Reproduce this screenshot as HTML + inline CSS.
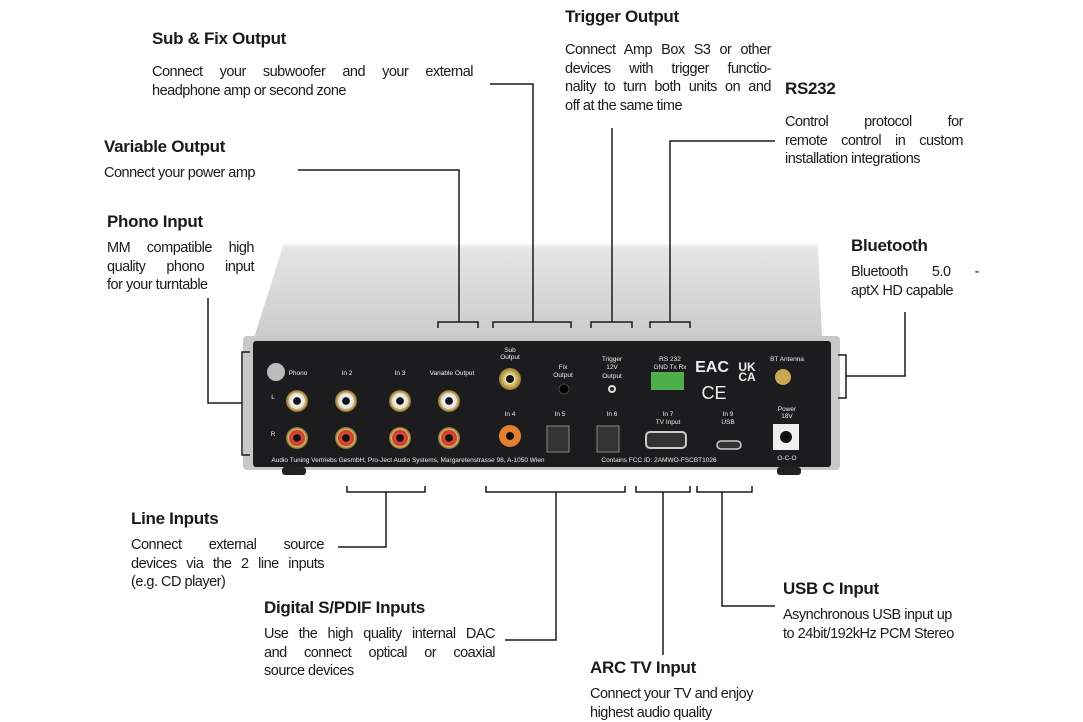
<!DOCTYPE html>
<html><head><meta charset="utf-8">
<style>
body{margin:0;background:#fff;}
#c{position:relative;width:1083px;height:722px;overflow:hidden;font-family:"Liberation Sans",sans-serif;color:#1a1a1a;}
.t{position:absolute;font-weight:bold;font-size:17px;letter-spacing:-0.3px;}
.d{position:absolute;font-size:14.5px;line-height:18.5px;letter-spacing:-0.5px;white-space:nowrap;}
.d div{text-align:left;}
.d .j{text-align:justify;text-align-last:justify;}
svg{position:absolute;left:0;top:0;}
</style></head><body><div id="c">
<svg width="1083" height="722">
<defs>
<linearGradient id="lid" x1="0" y1="0" x2="0" y2="1"><stop offset="0" stop-color="#e6e6e6"/><stop offset="1" stop-color="#cbcbcb"/></linearGradient>
<radialGradient id="gold"><stop offset="0.35" stop-color="#fff"/><stop offset="0.45" stop-color="#e7d38a"/><stop offset="1" stop-color="#9a7a2a"/></radialGradient>
<radialGradient id="red"><stop offset="0.3" stop-color="#111"/><stop offset="0.4" stop-color="#e04a3a"/><stop offset="0.7" stop-color="#c83a2a"/><stop offset="0.75" stop-color="#d9b870"/><stop offset="1" stop-color="#8a6a2a"/></radialGradient>
<radialGradient id="wht"><stop offset="0.3" stop-color="#111"/><stop offset="0.4" stop-color="#f4f4f4"/><stop offset="0.7" stop-color="#ddd"/><stop offset="0.75" stop-color="#d9b870"/><stop offset="1" stop-color="#8a6a2a"/></radialGradient>
</defs>
<path d="M283,246 L818,246 L822,338 L254,338 Z" fill="url(#lid)"/>
<path d="M283,246 L818,246" stroke="#eee" stroke-width="3"/>
<rect x="243" y="336" width="597" height="134" rx="4" fill="#c8c8c8"/>
<rect x="253" y="341" width="578" height="126" rx="3" fill="#1c1c1e"/>
<rect x="282" y="467" width="24" height="8" rx="3" fill="#222"/>
<rect x="777" y="467" width="24" height="8" rx="3" fill="#222"/>
<circle cx="276" cy="372" r="9" fill="#bbb"/>
<g>
<circle cx="297" cy="401" r="11" fill="url(#wht)"/><circle cx="297" cy="438" r="11" fill="url(#red)"/>
<circle cx="346" cy="401" r="11" fill="url(#wht)"/><circle cx="346" cy="438" r="11" fill="url(#red)"/>
<circle cx="400" cy="401" r="11" fill="url(#wht)"/><circle cx="400" cy="438" r="11" fill="url(#red)"/>
<circle cx="449" cy="401" r="11" fill="url(#wht)"/><circle cx="449" cy="438" r="11" fill="url(#red)"/>
<circle cx="510" cy="379" r="11" fill="url(#gold)"/><circle cx="510" cy="379" r="4" fill="#111"/>
<circle cx="510" cy="436" r="11" fill="#e08030"/><circle cx="510" cy="436" r="4" fill="#111"/>
<circle cx="564" cy="389" r="5" fill="#000" stroke="#444"/>
<circle cx="612" cy="389" r="4" fill="#ddd"/><circle cx="612" cy="389" r="2" fill="#222"/>
<rect x="651" y="372" width="33" height="18" fill="#4fae4a"/>
<rect x="547" y="426" width="22" height="26" fill="#333" stroke="#888"/>
<rect x="597" y="426" width="22" height="26" fill="#333" stroke="#888"/>
<rect x="646" y="432" width="40" height="16" rx="4" fill="#333" stroke="#ccc" stroke-width="2"/>
<rect x="717" y="441" width="24" height="8" rx="4" fill="#333" stroke="#ccc" stroke-width="1.5"/>
<rect x="773" y="424" width="26" height="26" fill="#eee"/><circle cx="786" cy="437" r="6" fill="#111"/>
<circle cx="783" cy="377" r="8" fill="#c8a850"/>
</g>
<g fill="#eee" font-family="Liberation Sans" font-size="6.5" text-anchor="middle">
<text x="298" y="375">Phono</text><text x="347" y="375">In 2</text><text x="400" y="375">In 3</text><text x="452" y="375">Variable Output</text>
<text x="273" y="399">L</text><text x="273" y="436">R</text>
<text x="510" y="352">Sub</text><text x="510" y="359">Output</text>
<text x="563" y="369">Fix</text><text x="563" y="377">Output</text>
<text x="612" y="361">Trigger</text><text x="612" y="369">12V</text><text x="612" y="378">Output</text>
<text x="670" y="361">RS 232</text><text x="670" y="369">GND Tx Rx</text>
<text x="787" y="361">BT Antenna</text><text x="787" y="411">Power</text><text x="787" y="418">18V</text>
<text x="510" y="416">In 4</text><text x="560" y="416">In 5</text><text x="612" y="416">In 6</text>
<text x="668" y="416">In 7</text><text x="668" y="424">TV Input</text>
<text x="728" y="416">In 9</text><text x="728" y="424">USB</text>
<text x="408" y="462">Audio Tuning Vertriebs GesmbH, Pro-Ject Audio Systems, Margaretenstrasse 98, A-1050 Wien</text>
<text x="659" y="462">Contains FCC ID: 2AMWO-FSCBT1026</text>
<text x="787" y="460">O-C-O</text>
<text x="712" y="372" font-size="16" font-weight="bold">EAC</text>
<text x="747" y="371" font-size="12" font-weight="bold">UK</text><text x="747" y="381" font-size="12" font-weight="bold">CA</text>
<text x="714" y="399" font-size="18">CE</text>
</g>
<g fill="none" stroke="#1a1a1a" stroke-width="1.5">
<path d="M438,328 V322 H478 V328 M459,322 V170 H298"/>
<path d="M493,328 V322 H571 V328 M533,322 V84 H490"/>
<path d="M591,328 V322 H632 V328 M612,322 V128"/>
<path d="M650,328 V322 H690 V328 M670,322 V141 H775"/>
<path d="M838,355 H846 V398 H838 M846,376 H905 V312"/>
<path d="M250,352 H242 V455 H250 M242,403 H208 V298"/>
<path d="M347,486 V492 H425 V486 M386,492 V547 H338"/>
<path d="M486,486 V492 H625 V486 M556,492 V640 H505"/>
<path d="M636,486 V492 H690 V486 M663,492 V655"/>
<path d="M697,486 V492 H752 V486 M722,492 V606 H775"/>
</g>
</svg>

<div class="t" style="left:152px;top:29px">Sub &amp; Fix Output</div>
<div class="d" style="left:152px;top:63px;width:321px"><div class="j">Connect your subwoofer and your external</div><div>headphone amp or second zone</div></div>

<div class="t" style="left:104px;top:137px">Variable Output</div>
<div class="d" style="left:104px;top:164px">Connect your power amp</div>

<div class="t" style="left:107px;top:212px">Phono Input</div>
<div class="d" style="left:107px;top:239px;width:147px"><div class="j">MM compatible high</div><div class="j">quality phono input</div><div>for your turntable</div></div>

<div class="t" style="left:565px;top:7px">Trigger Output</div>
<div class="d" style="left:565px;top:41px;width:206px"><div class="j">Connect Amp Box S3 or other</div><div class="j">devices with trigger functio-</div><div class="j">nality to turn both units on and</div><div>off at the same time</div></div>

<div class="t" style="left:785px;top:79px">RS232</div>
<div class="d" style="left:785px;top:113px;width:178px"><div class="j">Control protocol for</div><div class="j">remote control in custom</div><div>installation integrations</div></div>

<div class="t" style="left:851px;top:236px">Bluetooth</div>
<div class="d" style="left:851px;top:263px;width:128px"><div class="j">Bluetooth 5.0 -</div><div>aptX HD capable</div></div>

<div class="t" style="left:131px;top:509px">Line Inputs</div>
<div class="d" style="left:131px;top:536px;width:193px"><div class="j">Connect external source</div><div class="j">devices via the 2 line inputs</div><div>(e.g. CD player)</div></div>

<div class="t" style="left:264px;top:598px">Digital S/PDIF Inputs</div>
<div class="d" style="left:264px;top:625px;width:231px"><div class="j">Use the high quality internal DAC</div><div class="j">and connect optical or coaxial</div><div>source devices</div></div>

<div class="t" style="left:590px;top:658px">ARC TV Input</div>
<div class="d" style="left:590px;top:685px"><div>Connect your TV and enjoy</div><div>highest audio quality</div></div>

<div class="t" style="left:783px;top:579px">USB C Input</div>
<div class="d" style="left:783px;top:606px"><div>Asynchronous USB input up</div><div>to 24bit/192kHz PCM Stereo</div></div>
</div></body></html>
